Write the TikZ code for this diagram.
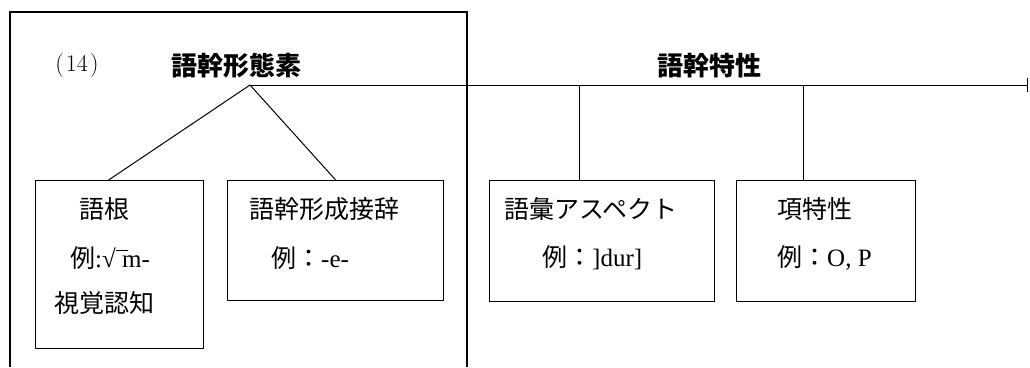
\documentclass[tikz,border=0pt]{standalone}
\usepackage{fontspec}
\setmainfont{Liberation Serif}
\newfontfamily\cjk{Noto Sans CJK JP}
\newfontfamily\lmr{Latin Modern Roman}
\usetikzlibrary{arrows.meta}
\newcommand{\J}[1]{{\cjk #1}}
\begin{document}
\begin{tikzpicture}[x=1pt,y=-1pt,
  box/.style={draw,line width=1.3pt,rectangle,inner sep=0pt,anchor=north west},
  txt/.style={inner sep=0pt,font=\fontsize{25}{29}\selectfont},
  head/.style={inner sep=0pt,font=\fontsize{26}{30}\selectfont\cjk\bfseries},
  conn/.style={line width=1pt}]
\useasboundingbox (0,0) rectangle (1030,367);
% outer frame (open at bottom)
\coordinate (fbl) at (10,367);
\coordinate (ftl) at (10,12);
\coordinate (ftr) at (467,12);
\coordinate (fbr) at (467,367);
\draw[line width=1.3pt] (fbl) -- (ftl) -- (ftr) -- (fbr);
% headings
\node[inner sep=0pt,font=\fontsize{24}{28}\selectfont\lmr] (num) at (77,66) {(\kern2pt 14\kern2pt)};
\node[head] (stem) at (236,66) {語幹形態素};
\node[head] (prop) at (709,66) {語幹特性};
% boxes
\node[box,minimum width=168pt,minimum height=168pt] (b1) at (35,180) {};
\node[box,minimum width=216pt,minimum height=120pt] (b2) at (227,180) {};
\node[box,minimum width=225pt,minimum height=121pt] (b3) at (489,180) {};
\node[box,minimum width=179pt,minimum height=121pt] (b4) at (736,180) {};
% box texts
\node[txt] (t1a) at (104,209) {\J{語根}};
\node[txt] (t1b) at (110,258) {\J{例}:√\rlap{\rule[0.66em]{0.5em}{0.05em}}\ m-};
\node[txt] (t1c) at (104,303) {\J{視覚認知}};
\node[txt] (t2a) at (324,209) {\J{語幹形成接辞}};
\node[txt,anchor=west] (t2b) at (271,258) {\J{例：}-e-};
\node[txt] (t3a) at (591,209) {\J{語彙アスペクト}};
\node[txt,anchor=west] (t3b) at (542,258) {\J{例：}]dur]};
\node[txt,anchor=west] (t4a) at (777,209) {\J{項特性}};
\node[txt,anchor=west] (t4b) at (777,258) {\J{例：}O, P};
% connectors
\coordinate (apex) at (250,85);
\coordinate (end) at (1028,85);
\draw[conn,-{Bar[width=14pt,line width=1.5pt]}] (apex) -- (end);
\draw[conn] (apex) -- ([xshift=-11pt]b1.north);
\draw[conn] (apex) -- (b2.north);
\draw[conn] (b3.north -| 579,0) -- (579,85);
\draw[conn] (b4.north -| 803,0) -- (803,85);
\end{tikzpicture}
\end{document}
